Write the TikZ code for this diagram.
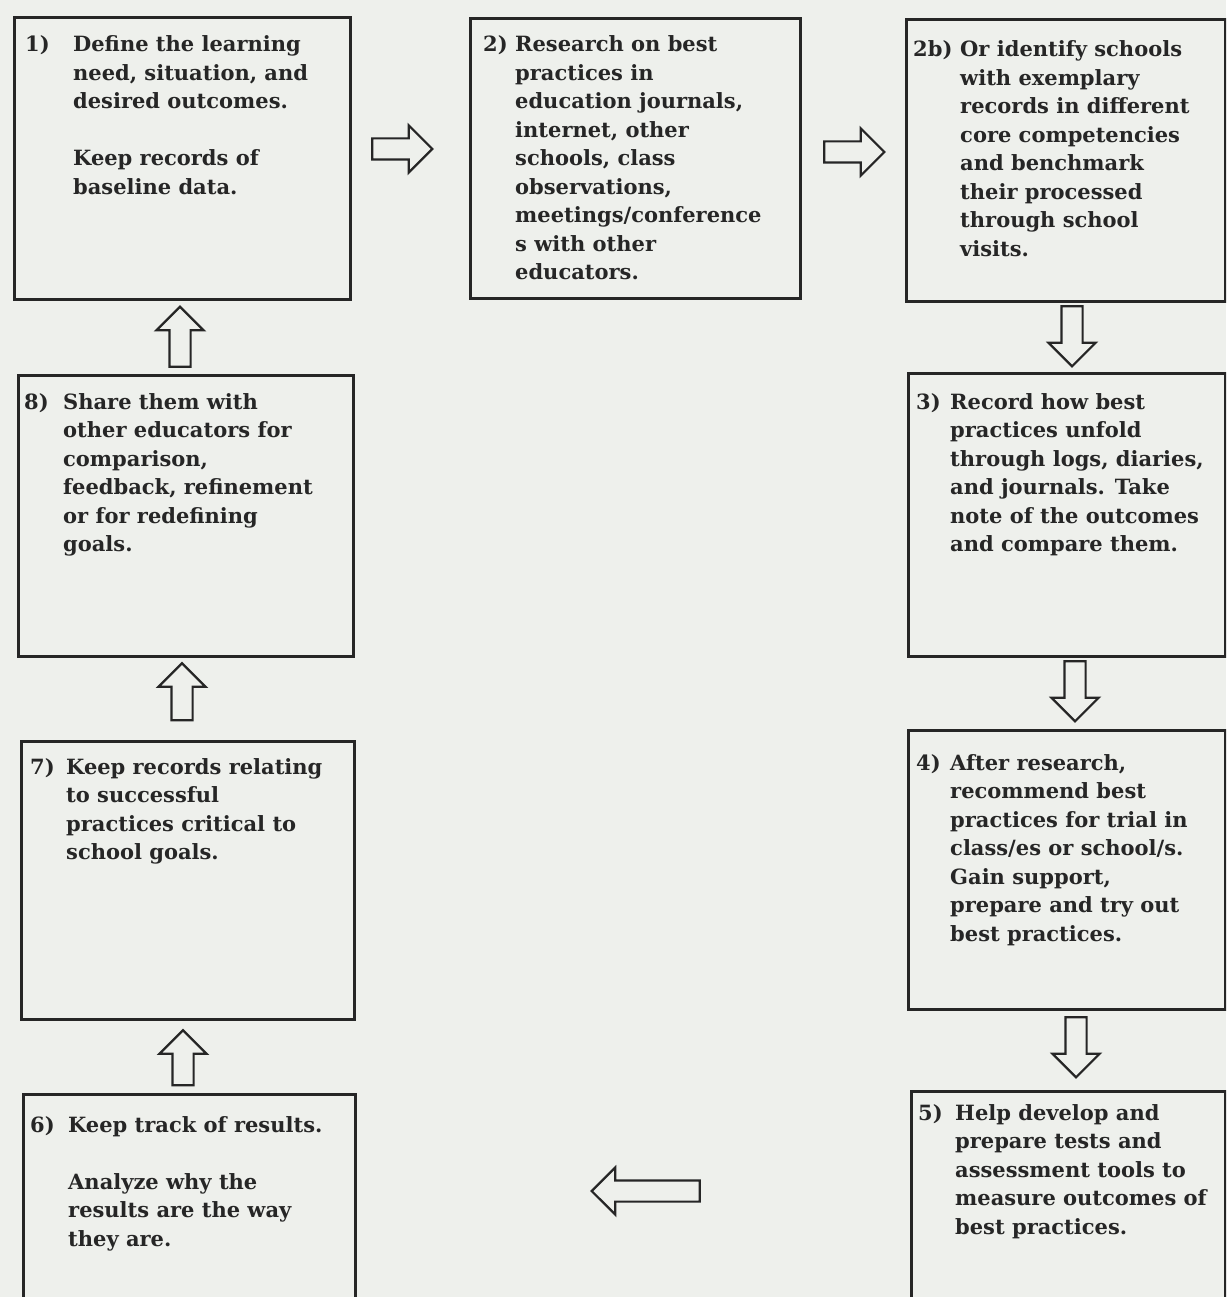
\documentclass[tikz,border=0pt]{standalone}
\usepackage{fontspec}
\setmainfont{DejaVu Serif}
\usetikzlibrary{shapes.arrows}
\definecolor{paper}{HTML}{EEF0EC}
\definecolor{ink}{HTML}{262626}
\tikzset{
  box/.style={draw=ink, line width=2.6pt, anchor=north west, inner sep=0pt},
  txt/.style={anchor=base west, inner sep=0pt, text=ink, font=\bfseries\fontsize{21}{28.5}\selectfont},
  blk/.style={single arrow, draw=ink, line width=2.2pt, minimum height=60pt,
    inner xsep=0pt, inner ysep=9.5pt, single arrow head extend=13pt, anchor=center}
}
\newcommand{\steptab}[2]{\begin{tabular}[t]{@{}p{#1}@{}l@{}}#2\end{tabular}}
\begin{document}
\begin{tikzpicture}[x=1pt,y=-1pt]
\useasboundingbox (0,0) rectangle (1226,1297);
\fill[paper] (0,0) rectangle (1226,1297);
\clip (0,0) rectangle (1226,1297);

% boxes
\node[box, minimum width=336pt, minimum height=282pt] (b1) at (13,16) {};
\node[box, minimum width=330pt, minimum height=280pt] (b2) at (469,17) {};
\node[box, minimum width=319pt, minimum height=282pt] (b2b) at (905,18) {};
\node[box, minimum width=335pt, minimum height=281pt] (b8) at (17,374) {};
\node[box, minimum width=317pt, minimum height=283pt] (b3) at (907,372) {};
\node[box, minimum width=333pt, minimum height=278pt] (b7) at (20,740) {};
\node[box, minimum width=317pt, minimum height=279pt] (b4) at (907,729) {};
\node[box, minimum width=332pt, minimum height=230pt] (b6) at (22,1093) {};
\node[box, minimum width=314pt, minimum height=230pt] (b5) at (910,1090) {};

% texts
\node[txt] (t1) at (25,52) {\steptab{48pt}{1) & Define the learning\\ & need, situation, and\\ & desired outcomes.\\ & \\ & Keep records of\\ & baseline data.}};
\node[txt] (t2) at (483,52) {\steptab{32pt}{2) & Research on best\\ & practices in\\ & education journals,\\ & internet, other\\ & schools, class\\ & observations,\\ & meetings/conference\\ & s with other\\ & educators.}};
\node[txt] (t2b) at (913,57) {\steptab{47pt}{2b) & Or identify schools\\ & with exemplary\\ & records in different\\ & core competencies\\ & and benchmark\\ & their processed\\ & through school\\ & visits.}};
\node[txt] (t8) at (24,409) {\steptab{39pt}{8) & Share them with\\ & other educators for\\ & comparison,\\ & feedback, refinement\\ & or for redefining\\ & goals.}};
\node[txt] (t3) at (916,409) {\steptab{34pt}{3) & Record how best\\ & practices unfold\\ & through logs, diaries,\\ & and journals. Take\\ & note of the outcomes\\ & and compare them.}};
\node[txt] (t7) at (30,774) {\steptab{36pt}{7) & Keep records relating\\ & to successful\\ & practices critical to\\ & school goals.}};
\node[txt] (t4) at (916,770) {\steptab{34pt}{4) & After research,\\ & recommend best\\ & practices for trial in\\ & class/es or school/s.\\ & Gain support,\\ & prepare and try out\\ & best practices.}};
\node[txt] (t6) at (30,1132) {\steptab{38pt}{6) & Keep track of results.\\ & \\ & Analyze why the\\ & results are the way\\ & they are.}};
\node[txt] (t5) at (918,1120) {\steptab{37pt}{5) & Help develop and\\ & prepare tests and\\ & assessment tools to\\ & measure outcomes of\\ & best practices.}};

% block arrows
\node[blk] (a12) at (397,149) {};
\node[blk] (a22b) at (849,152) {};
\node[blk, rotate=-90] (a2b3) at (1072,331) {};
\node[blk, rotate=-90] (a34) at (1075,686) {};
\node[blk, rotate=-90] (a45) at (1076,1042) {};
\node[blk, rotate=180, minimum height=108pt] (a56) at (651,1191) {};
\node[blk, rotate=90, minimum height=55pt] (a67) at (183,1063) {};
\node[blk, rotate=90, minimum height=57pt] (a78) at (182,697) {};
\node[blk, rotate=90] (a81) at (180,342) {};
\end{tikzpicture}
\end{document}
